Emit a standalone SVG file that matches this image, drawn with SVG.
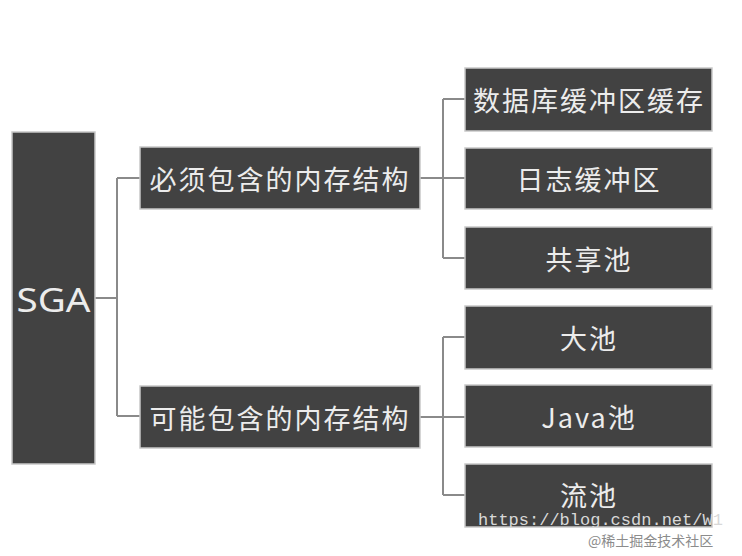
<svg xmlns="http://www.w3.org/2000/svg" width="742" height="556" viewBox="0 0 742 556">
<style>
.box{fill:#424242;stroke:#c8c8c8;stroke-width:1.5}
.t{fill:#ececec;font-family:"Noto Sans CJK SC","Noto Sans",sans-serif;font-size:27px;text-anchor:middle;dominant-baseline:central;letter-spacing:2px}
.c{fill:none;stroke:#8a8a8a;stroke-width:2}
.wm{font-family:"Liberation Mono",monospace;font-size:17px;fill:#d8d8d8}
.wm2{font-family:"Noto Sans CJK SC",sans-serif;font-size:14px;fill:#8c8c8c}
</style>
<rect width="742" height="556" fill="#ffffff"/>
<g id="connectors">
<path class="c" d="M95 298H117M117 178V416M117 178H140M117 416H140"/>
<path class="c" d="M420 178H465M443 99V258M443 99H465M443 258H465"/>
<path class="c" d="M420 417H465M443 337V495M443 337H465M443 495H465"/>
</g>
<g id="sga"><rect class="box" x="12" y="132" width="83" height="332"/><text class="t" x="53.5" y="299" textLength="74" lengthAdjust="spacingAndGlyphs" style="font-family:'Noto Sans',sans-serif;font-size:32px;letter-spacing:0">SGA</text></g>
<g id="must"><rect class="box" x="140" y="147" width="280" height="62"/><text class="t" x="280" y="178">必须包含的内存结构</text></g>
<g id="maybe"><rect class="box" x="140" y="386" width="280" height="62"/><text class="t" x="280" y="417">可能包含的内存结构</text></g>
<g id="dbcache"><rect class="box" x="465" y="68" width="247" height="63"/><text class="t" x="589" y="99">数据库缓冲区缓存</text></g>
<g id="logbuf"><rect class="box" x="465" y="148" width="247" height="61"/><text class="t" x="589" y="178">日志缓冲区</text></g>
<g id="shared"><rect class="box" x="465" y="227" width="247" height="62"/><text class="t" x="589" y="258">共享池</text></g>
<g id="large"><rect class="box" x="465" y="306" width="247" height="63"/><text class="t" x="589" y="337">大池</text></g>
<g id="java"><rect class="box" x="465" y="385" width="247" height="62"/><text class="t" x="589" y="416">Java池</text></g>
<g id="stream"><rect class="box" x="465" y="464" width="247" height="63"/><text class="t" x="589" y="494">流池</text></g>
<text class="wm" x="478" y="525">https://blog.csdn.net/W1</text>
<text class="wm2" x="588" y="546">@稀土掘金技术社区</text>
</svg>
